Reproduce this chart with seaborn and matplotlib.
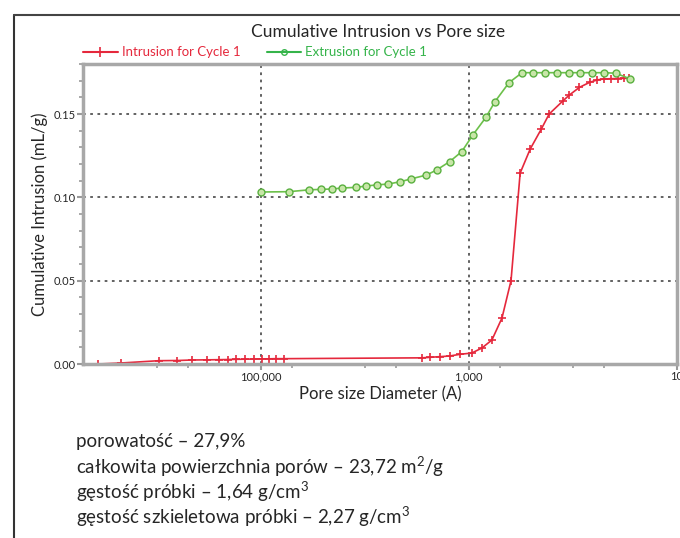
import numpy as np
import pandas as pd
import matplotlib
matplotlib.use("Agg")
import matplotlib.pyplot as plt
import matplotlib.ticker as mticker
from matplotlib.lines import Line2D
import seaborn as sns

# data (pore diameter in A, cumulative volume in mL/g)
intr_size = [3.67e6, 2.2e6, 9.46e5, 6.3e5, 4.6e5, 3.3e5, 2.5e5, 2.04e5, 1.74e5, 1.4e5,
             1.17e5, 9.8e4, 8.4e4, 7.2e4, 6.0e4, 2.84e3, 2.38e3, 1.91e3, 1.53e3, 1.22e3,
             935, 748, 600, 480, 393, 321, 257, 201, 169, 124,
             108, 86.5, 69, 58, 50.7, 43.4, 37.2, 32.5, 29.1]
intr_vol = [0.0000, 0.0006, 0.0020, 0.0021, 0.0024, 0.0025, 0.0026, 0.0027, 0.0028, 0.0029,
            0.0030, 0.0031, 0.0031, 0.0032, 0.0032, 0.0037, 0.0040, 0.0044, 0.0048, 0.0058,
            0.0066, 0.0096, 0.0144, 0.0276, 0.0500, 0.1146, 0.1290, 0.1410, 0.1500, 0.1580,
            0.1614, 0.1660, 0.1690, 0.1705, 0.1710, 0.1712, 0.1713, 0.1714, 0.1714]

extr_size = [1.0e5, 5.36e4, 3.44e4, 2.63e4, 2.06e4, 1.65e4, 1.21e4, 9.7e3, 7.57e3, 5.93e3,
             4.54e3, 3.63e3, 2.55e3, 2.04e3, 1.53e3, 1.17e3, 915, 685, 561, 411,
             308, 241, 184, 141, 110, 84.7, 64.8, 50.7, 38.8, 28.5]
extr_vol = [0.1032, 0.1034, 0.1045, 0.1048, 0.1050, 0.1056, 0.1060, 0.1068, 0.1075, 0.1080,
            0.1094, 0.1110, 0.1134, 0.1164, 0.1214, 0.1274, 0.1374, 0.1480, 0.1574, 0.1688,
            0.1748, 0.1748, 0.1748, 0.1748, 0.1748, 0.1748, 0.1748, 0.1748, 0.1745, 0.1712]

labels = ["Intrusion for Cycle 1", "Extrusion for Cycle 1"]
major_x = [1e5, 1e3, 10]
major_x_labels = ["100,000", "1,000", "10"]
minor_x = [1e6, 5e5, 5e4, 1e4, 5e3, 500, 100, 50]

notes = ["porowatość – 27,9%",
         "całkowita powierzchnia porów – 23,72 m$^2$/g",
         "gęstość próbki – 1,64 g/cm$^3$",
         "gęstość szkieletowa próbki – 2,27 g/cm$^3$"]

sns.set_style("white")
plt.rcParams["font.family"] = ["Lato", "DejaVu Sans"]
plt.rcParams["mathtext.fontset"] = "custom"
plt.rcParams["mathtext.rm"] = "Lato"
plt.rcParams["mathtext.it"] = "Lato"
plt.rcParams["mathtext.default"] = "regular"

red = "#e5283c"
green = "#35b44a"

fig = plt.figure(figsize=(6.8, 5.38), dpi=100)
ax = fig.add_axes([0.122, 0.3234, 0.8735, 0.5576])

sns.lineplot(x=intr_size, y=intr_vol, ax=ax, color=red, lw=1.2, sort=False,
             marker="+", markersize=6, markeredgewidth=1.2, markeredgecolor=red)
sns.lineplot(x=extr_size, y=extr_vol, ax=ax, color="#6cc04a", lw=1.2, sort=False,
             marker="o", markersize=5, markerfacecolor="#c8e6a8",
             markeredgecolor="#5ab040", markeredgewidth=1.0)

ax.set_xscale("log")
ax.set_xlim(5.1e6, 10)
ax.set_ylim(0, 0.18)

ax.xaxis.set_major_locator(mticker.FixedLocator(major_x))
ax.xaxis.set_major_formatter(mticker.FixedFormatter(major_x_labels))
ax.xaxis.set_minor_locator(mticker.FixedLocator(minor_x))
ax.xaxis.set_minor_formatter(mticker.NullFormatter())
ax.yaxis.set_major_locator(mticker.MultipleLocator(0.05))
ax.yaxis.set_minor_locator(mticker.MultipleLocator(0.01))
ax.yaxis.set_major_formatter(mticker.FormatStrFormatter("%.2f"))

ax.grid(True, which="major", color="#555555", linestyle=(0, (1.5, 2.5)), lw=1.3)
ax.tick_params(which="both", direction="out", color="#999999", labelsize=8, pad=1)
ax.tick_params(which="major", length=4, width=1.5)
ax.tick_params(which="minor", length=3, width=1.2)
ax.tick_params(axis="x", which="both", bottom=True)
ax.tick_params(axis="y", which="both", left=True)
for s in ax.spines.values():
    s.set_color("#a8a8a8")
    s.set_linewidth(2.5)

ax.set_xlabel("Pore size Diameter (A)", fontsize=12, labelpad=3)
ax.set_ylabel("Cumulative Intrusion (mL/g)", fontsize=12, labelpad=4)
fig.text(0.556, 0.94, "Cumulative Intrusion vs Pore size", ha="center", va="center", fontsize=12.5)

handles = [Line2D([], [], color=red, lw=1.5, marker="+", markersize=7, markeredgewidth=1.2),
           Line2D([], [], color=green, lw=1.5, marker="o", markersize=4,
                  markerfacecolor="none", markeredgecolor=green)]
leg = fig.legend(handles, labels, loc="center left", bbox_to_anchor=(0.105, 0.903),
                 ncol=2, frameon=False, fontsize=9.5, handlelength=2.6, handletextpad=0.3,
                 columnspacing=2.0, labelcolor=[red, green])

# outer frame (cut off at right and bottom)
fig.add_artist(Line2D([0.02, 0.02], [0.0, 0.973], color="#333333", lw=1.5, transform=fig.transFigure))
fig.add_artist(Line2D([0.02, 1.0], [0.973, 0.973], color="#444444", lw=1.5, transform=fig.transFigure))

y0 = 0.179
for i, t in enumerate(notes):
    fig.text(0.112, y0 - i * 0.0465, t, fontsize=13.5, ha="left", va="center")

fig.savefig("out.png", dpi=100)
